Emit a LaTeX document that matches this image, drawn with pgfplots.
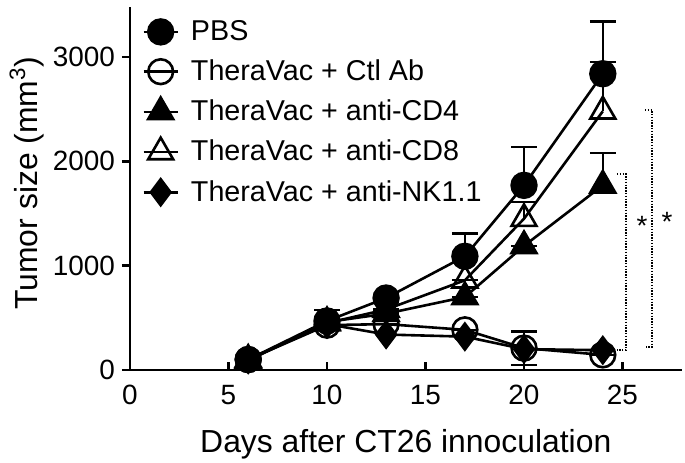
\documentclass[border=0pt]{standalone}
\usepackage{pgfplots}
\pgfplotsset{compat=1.18}
\usepackage{fontspec}
\setmainfont{Liberation Sans}
\begin{document}
\begin{tikzpicture}
\begin{axis}[
  scale only axis,
  width=275.8bp, height=181.5bp,
  xmin=0, xmax=28, ymin=0, ymax=3480,
  axis lines=left,
  axis line style={-, line width=1.4bp},
  xtick={0,5,10,15,20,25},
  ytick={0,1000,2000,3000},
  xtick align=inside,
  ytick align=outside,
  major tick length=4bp,
  tick style={line width=1.4bp, black},
  /pgf/number format/assume math mode=true,
  /pgf/number format/1000 sep={},
  tick label style={font=\fontsize{14}{16}\selectfont},
  xticklabel style={yshift=-4bp},
  label style={font=\fontsize{16}{18}\selectfont},
  xlabel={Days after CT26 innoculation},
  ylabel={Tumor size (mm\textsuperscript{3})},
  xlabel style={at={(rel axis cs:0.5,-0.205)}, anchor=center},
  ylabel style={at={(rel axis cs:-0.187,0.515)}, anchor=center},
  clip=false,
  legend style={at={(rel axis cs:0,1)}, anchor=north west, xshift=3bp, yshift=-3bp,
    draw=none, fill=none, font=\fontsize{14.4}{16}\selectfont, row sep=5.2bp,
    nodes={inner sep=1.5bp},
    /tikz/every odd column/.append style={column sep=4.5bp}},
  legend cell align=left,
  every axis plot/.append style={line width=1.3bp, black},
  error bars/error bar style={line width=1.2bp, black},
  error bars/error mark options={rotate=90, mark size=6.5bp, line width=1.2bp, black},
]
\addplot[mark=*, mark size=6.2bp, mark options={fill=black},
  error bars/.cd, y dir=plus, y explicit] coordinates {
  (6,100) +- (0,0)
  (10,470) +- (0,105)
  (13,690) +- (0,0)
  (17,1090) +- (0,220)
  (20,1770) +- (0,370)
  (24,2840) +- (0,500)
};
\addlegendentry{PBS}
\addplot[mark=o, mark size=6.2bp, mark options={fill=white},
  error bars/.cd, y dir=both, y explicit] coordinates {
  (6,100) +- (0,0)
  (10,430) +- (0,0)
  (13,440) +- (0,0)
  (17,385) +- (0,0)
  (20,210) +- (0,160)
  (24,145) +- (0,0)
};
\addlegendentry{TheraVac + Ctl Ab}
\addplot[mark=triangle*, mark size=7.2bp, mark options={fill=black},
  error bars/.cd, y dir=plus, y explicit] coordinates {
  (6,90) +- (0,0)
  (10,460) +- (0,0)
  (13,540) +- (0,0)
  (17,700) +- (0,0)
  (20,1190) +- (0,0)
  (24,1770) +- (0,310)
};
\addlegendentry{TheraVac + anti-CD4}
\addplot[mark=triangle, mark size=7.2bp, mark options={fill=white},
  error bars/.cd, y dir=plus, y explicit] coordinates {
  (6,100) +- (0,0)
  (10,450) +- (0,0)
  (13,580) +- (0,0)
  (17,860) +- (0,0)
  (20,1450) +- (0,160)
  (24,2480) +- (0,470)
};
\addlegendentry{TheraVac + anti-CD8}
\addplot[mark=diamond*, mark size=6.5bp, mark options={fill=black}] coordinates {
  (6,100) (10,440) (13,340) (17,320) (20,200) (24,190)
};
\addlegendentry{TheraVac + anti-NK1.1}
% significance brackets
\addplot[forget plot, line width=1bp, dash pattern=on 0.7bp off 0.7bp] coordinates {
  (24.72,1879) (25.18,1879) (25.18,192) (24.72,192)};
\addplot[forget plot, line width=1bp, dash pattern=on 0.7bp off 0.7bp] coordinates {
  (26.14,2493) (26.5,2493) (26.5,220) (26.14,220)};
\node[font=\fontsize{14}{16}\selectfont] at (axis cs:25.99,1380) {*};
\node[font=\fontsize{14}{16}\selectfont] at (axis cs:27.26,1420) {*};
\coordinate (O) at (axis cs:0,0);
\end{axis}
\pgfresetboundingbox
\path (O) ++(-65bp,-46.5bp) rectangle ++(342.5bp,231.5bp);
\end{tikzpicture}
\end{document}
